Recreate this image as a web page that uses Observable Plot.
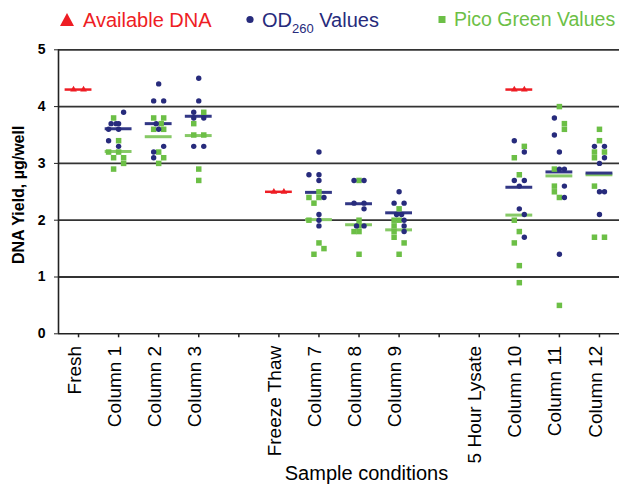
<!DOCTYPE html>
<html><head><meta charset="utf-8">
<script src="https://cdn.jsdelivr.net/npm/d3@7"></script>
<script src="https://cdn.jsdelivr.net/npm/@observablehq/plot@0.6"></script>
<style>
body{margin:0;background:#fff;font-family:"Liberation Sans",Arial,sans-serif;}
#legend{position:relative;width:619px;height:40px;overflow:hidden;}
#legend .t{position:absolute;top:0;font-size:20px;line-height:1;white-space:nowrap;}
#legend svg{position:absolute;top:0;left:0;}
#chart{width:619px;height:446px;overflow:hidden;}
</style></head><body>
<div id="legend"></div>
<div id="chart"></div>
<script>
// ---- data ----
const slotLabels = ["Fresh","Column 1","Column 2","Column 3","","Freeze Thaw","Column 7","Column 8","Column 9","","5 Hour Lysate","Column 10","Column 11","Column 12"];
const yTicks = [0, 1, 2, 3, 4, 5];

// Available DNA (red triangles + line)
const availSlots = [0, 5, 11];
const availValues = [4.3, 2.5, 4.3];

// replicate groups
const groupSlots = [1, 2, 3, 6, 7, 8, 11, 12, 13];
const odValues = [
  [3.9, 3.7, 3.7, 3.7, 3.6, 3.6, 3.4, 3.3],
  [4.4, 4.1, 4.1, 3.7, 3.6, 3.3, 3.2, 3.1],
  [4.5, 4.1, 3.9, 3.8, 3.8, 3.3, 3.3],
  [3.2, 2.8, 2.8, 2.7, 2.4, 2.1, 2.0, 1.9],
  [2.7, 2.7, 2.3, 2.3, 2.2, 1.9, 1.9],
  [2.5, 2.3, 2.3, 2.1, 2.1, 2.0, 1.9, 1.8],
  [3.4, 3.2, 2.7, 2.7, 2.6, 2.2, 2.1, 1.7],
  [3.8, 3.5, 3.2, 2.9, 2.9, 2.6, 2.4, 1.4],
  [3.3, 3.3, 3.1, 3.0, 2.5, 2.5, 2.1]
];
const odJitter = [
  [1, -1.5, -0.5, 0, -2, 0, -2, 0],
  [0, -1, 1, -0.5, 0, 1, -1, -1],
  [0, 0, -1, -1, 1, -1, 1],
  [0, -2, 0, 0, 1, 0, 0, 0],
  [-1, 1, -1, 1, 1, -0.5, 1],
  [0, -1, 1, -0.5, 0.5, 1, 1, 1],
  [-1, 1, -1, 1, 0, 0, 1, 1],
  [-1, -1, 0, 0, 1, 1, 1, 0],
  [-1, 1, 1, 0, 0, 1, 0]
];
const pgValues = [
  [3.8, 3.4, 3.2, 3.2, 3.1, 3.1, 3.0, 2.9],
  [3.8, 3.8, 3.7, 3.6, 3.6, 3.2, 3.1, 3.0],
  [3.9, 3.7, 3.5, 3.5, 2.9, 2.7],
  [2.5, 2.4, 2.4, 2.3, 2.0, 1.6, 1.5, 1.4],
  [2.7, 2.0, 1.9, 1.8, 1.8, 1.4],
  [2.2, 2.0, 2.0, 1.9, 1.8, 1.7, 1.6, 1.4],
  [3.3, 3.1, 2.8, 2.0, 1.8, 1.6, 1.2, 0.9],
  [4.0, 3.7, 3.6, 2.9, 2.6, 2.5, 2.4, 0.5],
  [3.6, 3.4, 3.2, 3.2, 3.1, 2.6, 1.7, 1.7]
];
const pgJitter = [
  [-1, 0, -2, 0, -1, 1, 1, -1],
  [-1, 1, 0.5, -1, 1, 0, 1, 0],
  [1, -1, -1, 1, 0, 0],
  [0, -2, 0, -1, -2, 0, 1, -1],
  [0, 0, 0, -1, 0, 0],
  [0, -1, 0, -1, -1, -1, 1, 0],
  [1, -1, 0, -1, 0, -1, 0, 0],
  [0, 1, 1, -1, -1, -1, 0, 0],
  [0, 0, -1, 1, -1, -1, -1, 1]
];
const odMeans = [3.61, 3.70, 3.83, 2.49, 2.29, 2.13, 2.58, 2.85, 2.83];
const pgMeans = [3.21, 3.47, 3.49, 2.01, 1.92, 1.83, 2.09, 2.78, 2.80];

// ---- styling / layout ----
const RED = "#ee1d24", BLUE = "#272b7c", GREEN = "#6cbf46", GREEN_LINE = "#86c966", BLUE_LINE = "#323785";
const jitterStep = 0.125;   // one jitter step in slot units
const halfLine = 0.335;     // half-length of mean lines in slot units

const flatten = (vals, jit) => groupSlots.flatMap((s, g) => vals[g].map((v, i) => ({slot: s, value: v, j: jit[g][i]})));
const odPts = flatten(odValues, odJitter);
const pgPts = flatten(pgValues, pgJitter);
const odLines = groupSlots.map((s, g) => ({slot: s, value: odMeans[g]}));
const pgLines = groupSlots.map((s, g) => ({slot: s, value: pgMeans[g]}));
const avail = availSlots.map((s, i) => ({slot: s, value: availValues[i]}));
const availPts = avail.flatMap(d => [{...d, j: -1}, {...d, j: 1}]);

const allSlots = d3.range(slotLabels.length);

const chart = Plot.plot({
  width: 619, height: 446,
  marginLeft: 58, marginRight: 0, marginTop: 9.3, marginBottom: 152.7,
  style: {fontFamily: "'Liberation Sans', Arial, sans-serif", background: "white", color: "black"},
  x: {type: "linear", domain: [-0.5, 13.5]},
  y: {domain: [0, 5]},
  marks: [
    Plot.ruleY(yTicks.filter(t => t > 0), {stroke: "#333", strokeWidth: 1.8}),
    Plot.ruleY([0], {stroke: "#222", strokeWidth: 1.6}),
    Plot.ruleX([-0.5], {y1: 0, y2: 5, stroke: "#222", strokeWidth: 1.6}),
    Plot.axisY({ticks: yTicks, tickSize: 4, tickPadding: 9, tickFormat: d => String(d), fontSize: 14, fontWeight: "bold", label: null, stroke: "#222"}),
    Plot.axisX({ticks: allSlots, tickSize: 4, tickFormat: () => "", label: null, stroke: "#222", strokeWidth: 1.5}),
    Plot.axisX({ticks: allSlots, tickSize: 0, tickPadding: 12, tickRotate: -90, tickFormat: i => slotLabels[i], fontSize: 19, dx: -4, label: null}),
    Plot.text(["DNA Yield, µg/well"], {text: d => d, frameAnchor: "left", dx: -40, dy: 3, rotate: -90, textAnchor: "middle", fontSize: 16, fontWeight: "bold"}),
    Plot.text(["Sample conditions"], {text: d => d, frameAnchor: "bottom", dx: 27.5, dy: 146.5, textAnchor: "middle", fontSize: 20}),
    Plot.ruleY(pgLines, {y: "value", x1: d => d.slot - halfLine, x2: d => d.slot + halfLine, stroke: GREEN_LINE, strokeWidth: 3}),
    Plot.ruleY(odLines, {y: "value", x1: d => d.slot - halfLine, x2: d => d.slot + halfLine, stroke: BLUE_LINE, strokeWidth: 3}),
    Plot.dot(pgPts, {x: d => d.slot + d.j * jitterStep, y: "value", symbol: "square", r: 3.1, fill: GREEN, stroke: "none"}),
    Plot.dot(odPts, {x: d => d.slot + d.j * jitterStep, y: "value", symbol: "circle", r: 2.7, fill: BLUE, stroke: "none"}),
    Plot.ruleY(avail, {y: "value", x1: d => d.slot - halfLine, x2: d => d.slot + halfLine, stroke: RED, strokeWidth: 2.5}),
    Plot.dot(availPts, {x: d => d.slot + d.j * jitterStep, y: "value", symbol: "triangle2", r: 3.2, fill: RED, stroke: "none"})
  ]
});
document.getElementById("chart").appendChild(chart);

// ---- legend ----
const leg = document.getElementById("legend");
leg.innerHTML = `
<svg width="619" height="40">
  <path d="M60,26 L67,13 L74,26 Z" fill="${RED}"/>
  <circle cx="250" cy="19.5" r="3.6" fill="${BLUE}"/>
  <rect x="438.5" y="16" width="7" height="7" fill="${GREEN}"/>
</svg>
<span class="t" style="left:83px;top:10px;color:${RED}">Available DNA</span>
<span class="t" style="left:262px;top:10px;color:${BLUE}">OD<span style="font-size:13px;position:relative;top:6px">260</span> Values</span>
<span class="t" style="left:454px;top:10px;font-size:19.5px;color:${GREEN}">Pico Green Values</span>`;
</script>
</body></html>
